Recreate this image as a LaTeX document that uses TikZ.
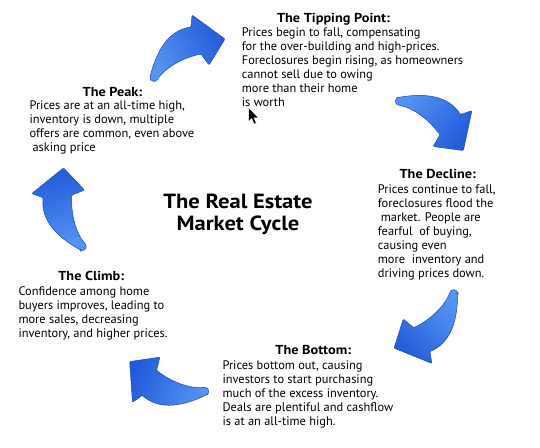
\documentclass[tikz,border=0pt]{standalone}
\usepackage{fontspec}
\setmainfont{PT Sans}
\newfontfamily\titlefont{PT Sans}[FakeStretch=1.1]
\definecolor{arrowlight}{RGB}{84,148,242}
\definecolor{arrowdark}{RGB}{34,92,218}
\definecolor{arrowedge}{RGB}{28,72,190}
\tikzset{
  bluearrow/.style={draw=arrowedge, line width=0.5pt, left color=arrowlight, right color=arrowdark, rounded corners=1pt},
  bodytext/.style={anchor=north west, align=left, inner sep=0pt, font=\fontsize{12.4}{14}\selectfont},
  titletext/.style={anchor=base, inner sep=0pt, font=\fontsize{13}{14}\selectfont\titlefont\bfseries},
}
% #1 centre, #2 rotation; shading angle = 119.7 + rotation
\newcommand\mycurvedarrow[2]{%
  \begin{scope}[shift={#1}, rotate=#2]
    \pgfmathsetmacro\myshadeangle{119.7+#2}
    \path[bluearrow, shading angle=\myshadeangle] (-39,17.5) .. controls (-31,-14.5) and (-17,-29.5) .. (2,-32.5)
      -- (3,-44.5) -- (36,-20.5) -- (20,5.5) -- (12,-5.5)
      .. controls (-7,-1.5) and (-24,8.5) .. (-32,20.5)
      .. controls (-35,23) and (-39,21) .. cycle;
  \end{scope}}
\begin{document}
\begin{tikzpicture}[x=1pt, y=-1pt]
\path[use as bounding box, fill=white] (0,0) rectangle (540,447);

\mycurvedarrow{(189,59.5)}{0}
\mycurvedarrow{(430,126)}{-66}
\mycurvedarrow{(424,319.5)}{-166}
\mycurvedarrow{(168.5,376)}{130}
\mycurvedarrow{(74,208)}{75}

\node[anchor=north, align=center, inner sep=0pt, font=\fontsize{20.5}{22.4}\selectfont\titlefont\bfseries] (center) at (238,192.6) {\strut The Real Estate\\Market Cycle};

\node[titletext] (tiptitle) at (333.5,22.7) {The Tipping Point:};
\node[bodytext] (tipbody) at (241.7,26.9) {\strut Prices begin to fall, compensating\\for the over-building and high-prices.\\Foreclosures begin rising, as homeowners\\cannot sell due to owing\\more than their home\\is worth};

\node[titletext] (peaktitle) at (112.5,96) {The Peak:};
\node[bodytext] (peakbody) at (29.3,99.5) {\strut Prices are at an all-time high,\\inventory is down, multiple\\offers are common, even above\\\hspace*{3pt}asking price};

\node[titletext] (decltitle) at (437.8,178.3) {The Decline:};
\node[bodytext] (declbody) at (377.7,183.5) {\strut Prices continue to fall,\\foreclosures flood the\\\hspace*{3pt}market. People are\\fearful\ \ of buying,\\causing even\\more\ \ inventory and\\driving prices down.};

\node[titletext] (climbtitle) at (91.3,280) {The Climb:};
\node[bodytext] (climbbody) at (18.3,285.2) {\strut Confidence among home\\buyers improves, leading to\\more sales, decreasing\\inventory, and higher prices.};

\node[titletext] (bottitle) at (313.3,354) {The Bottom:};
\node[bodytext] (botbody) at (222.3,359.2) {\strut Prices bottom out, causing\\investors to start purchasing\\much of the excess inventory.\\Deals are plentiful and cashflow\\is at an all-time high.};

\fill[black, draw=white, line width=0.5pt, line join=miter] (248.5,107.5) -- (248.5,121.5) -- (251.7,118.6) -- (254.2,124.2) -- (256.4,123.2) -- (254,117.8) -- (258.4,117.8) -- cycle;
\end{tikzpicture}
\end{document}
